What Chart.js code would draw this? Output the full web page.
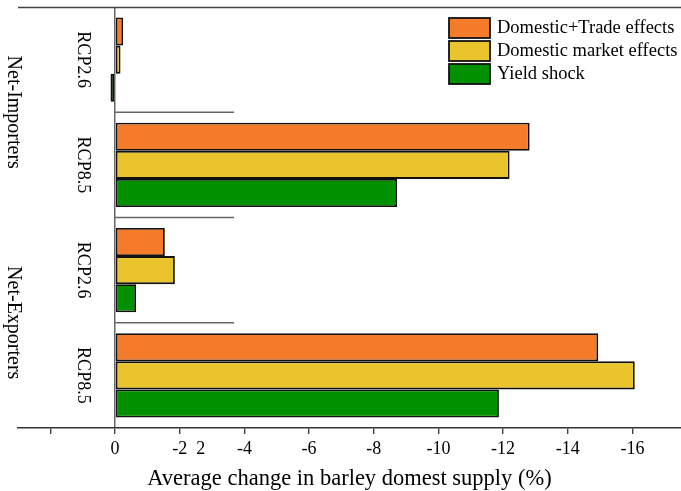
<!DOCTYPE html>
<html>
<head>
<meta charset="utf-8">
<script src="https://cdn.jsdelivr.net/npm/chart.js@4/dist/chart.umd.min.js"></script>
<style>
  html, body { margin: 0; padding: 0; background: #ffffff; }
  #c { display: block; }
</style>
</head>
<body>
<canvas id="c" width="681" height="491"></canvas>
<script>
// Barley domestic supply change by trade group and climate scenario
const categories = ['Net-Importers RCP2.6', 'Net-Importers RCP8.5', 'Net-Exporters RCP2.6', 'Net-Exporters RCP8.5'];
const scenarioLabels = ['RCP2.6', 'RCP8.5', 'RCP2.6', 'RCP8.5'];
const groupLabels = ['Net-Importers', 'Net-Exporters'];
const seriesNames = ['Domestic+Trade effects', 'Domestic market effects', 'Yield shock'];
const domesticTrade = [-0.25, -12.82, -1.54, -14.94];
const domesticMarket = [-0.17, -12.20, -1.85, -16.07];
const yieldShock = [0.14, -8.72, -0.65, -11.87];
const tickValues = [2, 0, -2, -4, -6, -8, -10, -12, -14, -16];
const tickLabels = ['', '0', '    -2  2', '-4', '-6', '-8', '-10', '-12', '-14', '-16'];
const axisTitle = 'Average change in barley domest supply (%)';

const seriesColors = ['#F47B2A', '#E9C42C', '#009000'];
const SERIF = '"Liberation Serif", "Times New Roman", serif';

// Frame line, group separators, rotated row labels and the legend box
const decorations = {
  id: 'decorations',
  afterDatasetsDraw(chart) {
    const { ctx, chartArea } = chart;
    const x = chart.scales.x, y = chart.scales.y;
    const zeroX = x.getPixelForValue(0);
    ctx.save();

    // top frame line
    ctx.strokeStyle = '#444';
    ctx.lineWidth = 1.5;
    ctx.beginPath();
    ctx.moveTo(chartArea.left, chartArea.top + 0.5);
    ctx.lineTo(chartArea.right, chartArea.top + 0.5);
    ctx.stroke();

    // short separators between scenario rows
    ctx.strokeStyle = '#666';
    ctx.lineWidth = 1.5;
    for (let i = 1; i < categories.length; i++) {
      const yy = (y.getPixelForValue(i - 1) + y.getPixelForValue(i)) / 2;
      ctx.beginPath();
      ctx.moveTo(zeroX, yy);
      ctx.lineTo(234, yy);
      ctx.stroke();
    }

    // rotated labels
    ctx.fillStyle = '#000';
    ctx.textAlign = 'center';
    ctx.textBaseline = 'middle';
    const drawRotated = (text, cx, cy, size) => {
      ctx.save();
      ctx.translate(cx, cy);
      ctx.rotate(Math.PI / 2);
      ctx.font = size + 'px ' + SERIF;
      ctx.fillText(text, 0, 0);
      ctx.restore();
    };
    scenarioLabels.forEach((t, i) => drawRotated(t, 83, y.getPixelForValue(i), 18));
    groupLabels.forEach((t, g) => {
      const cy = (y.getPixelForValue(2 * g) + y.getPixelForValue(2 * g + 1)) / 2;
      drawRotated(t, 13, cy, 20);
    });

    // legend
    const lx = 449, ly = 18, bw = 41, bh = 20, step = 23;
    ctx.textAlign = 'left';
    ctx.font = '18.5px ' + SERIF;
    chart.data.datasets.forEach((ds, i) => {
      const top = ly + i * step;
      ctx.fillStyle = ds.backgroundColor;
      ctx.fillRect(lx, top, bw, bh);
      ctx.strokeStyle = '#111';
      ctx.lineWidth = 1.8;
      ctx.strokeRect(lx, top, bw, bh);
      ctx.fillStyle = '#000';
      ctx.fillText(ds.label, lx + bw + 7, top + bh / 2 + 0.5);
    });
    ctx.restore();
  }
};

const seriesData = [domesticTrade, domesticMarket, yieldShock];

new Chart(document.getElementById('c'), {
  type: 'bar',
  data: {
    labels: categories,
    datasets: seriesNames.map((name, i) => ({
      label: name,
      data: seriesData[i],
      backgroundColor: seriesColors[i],
      borderColor: '#111',
      borderWidth: 1.8,
      borderSkipped: false,
      barPercentage: 1.0,
      categoryPercentage: 0.8
    }))
  },
  options: {
    indexAxis: 'y',
    responsive: false,
    animation: false,
    devicePixelRatio: 1,
    layout: { padding: { left: 18, right: 0, top: 7, bottom: 0 } },
    plugins: {
      legend: { display: false },
      tooltip: { enabled: false }
    },
    scales: {
      x: {
        type: 'linear',
        reverse: true,
        min: -17.5,
        max: 3,
        afterBuildTicks(scale) {
          scale.ticks = tickValues.map(v => ({ value: v }));
        },
        afterFit(scale) { scale.height = 63; },
        grid: {
          drawOnChartArea: true,
          color: ctx => (ctx.tick && ctx.tick.value === 0 ? '#666' : 'rgba(0,0,0,0)'),
          lineWidth: 1.5,
          tickColor: '#222',
          tickLength: 6,
          tickWidth: 1.2
        },
        border: { display: true, color: '#333', width: 1.5 },
        ticks: {
          autoSkip: false,
          maxRotation: 0,
          padding: 4,
          color: '#000',
          font: { family: SERIF, size: 18 },
          callback: (value) => {
            const i = tickValues.indexOf(value);
            return i >= 0 ? tickLabels[i] : '';
          }
        },
        title: {
          display: true,
          text: axisTitle,
          color: '#000',
          font: { family: SERIF, size: 22.5 },
          padding: { top: 0, bottom: -2 }
        }
      },
      y: {
        type: 'category',
        display: false,
        offset: true
      }
    }
  },
  plugins: [decorations]
});
</script>
</body>
</html>
